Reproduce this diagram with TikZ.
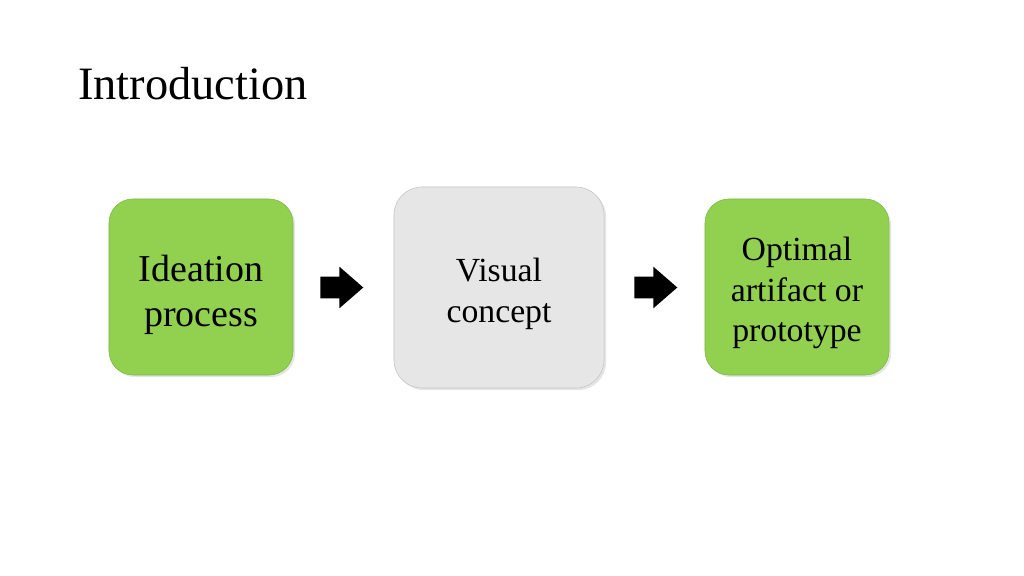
\documentclass[tikz,border=0pt]{standalone}
\usepackage{fontspec}
\setmainfont{Liberation Serif}
\usetikzlibrary{shapes.arrows,shadows}
\definecolor{stepgreen}{HTML}{92D050}
\definecolor{stepgreenline}{HTML}{7DB843}
\definecolor{stepgray}{HTML}{E6E6E6}
\definecolor{stepgrayline}{HTML}{C4C4C4}

\begin{document}
\begin{tikzpicture}[x=0.025cm,y=-0.025cm,
    greenbox/.style={draw=stepgreenline,fill=stepgreen,rounded corners=0.6cm,
      minimum width=4.6cm,minimum height=4.4cm,
      drop shadow={opacity=0.2,shadow xshift=1.5pt,shadow yshift=-1.5pt}},
    graybox/.style={draw=stepgrayline,fill=stepgray,rounded corners=0.7cm,
      minimum width=5.25cm,minimum height=5.025cm,
      drop shadow={opacity=0.2,shadow xshift=1.5pt,shadow yshift=-1.5pt}},
    boxtext/.style={align=center,inner sep=0pt},
    blockarrow/.style={single arrow,fill=black,draw=none,inner xsep=0pt,
      inner ysep=0.2625cm,minimum width=1.025cm,minimum height=1.075cm,
      single arrow head extend=0.25cm,single arrow tip angle=82,anchor=tail}]
  \useasboundingbox (0,0) rectangle (1024,576);
  \fill[white] (0,0) rectangle (1024,576);
  \node[anchor=base west,inner sep=0pt,font=\fontsize{33}{40}\selectfont] (title)
    at (78,100) {Introduction};
  \node[greenbox] (ideation) at (201,287) {};
  \node[graybox] (visual) at (499,287.5) {};
  \node[greenbox] (optimal) at (797,287) {};
  \node[boxtext,font=\fontsize{27}{32}\selectfont] (ideationtext)
    at ([yshift=-0.2cm]ideation.center) {Ideation\\process};
  \node[boxtext,font=\fontsize{24}{29}\selectfont] (visualtext)
    at ([yshift=-0.16cm]visual.center) {Visual\\concept};
  \node[boxtext,font=\fontsize{24}{29}\selectfont] (optimaltext)
    at ([yshift=-0.15cm]optimal.center) {Optimal\\artifact or\\prototype};
  \node[blockarrow] (arrowA) at (320,287.5) {};
  \node[blockarrow] (arrowB) at (634,287.5) {};
\end{tikzpicture}
\end{document}
